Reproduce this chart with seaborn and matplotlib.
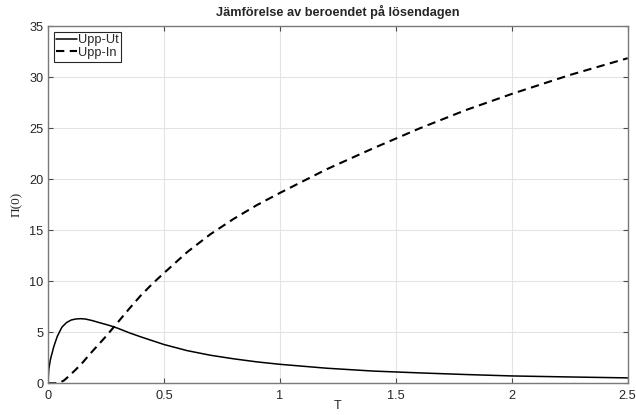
import matplotlib
matplotlib.use("Agg")
import matplotlib.pyplot as plt
from matplotlib import font_manager as fm
import seaborn as sns
import pandas as pd

# Option value versus time to expiry for the two barrier options
t_ut = [0, 0.003, 0.01, 0.025, 0.04, 0.06, 0.08, 0.1, 0.12, 0.14, 0.16, 0.19,
        0.22, 0.26, 0.3, 0.35, 0.4, 0.5, 0.6, 0.7, 0.8, 0.9, 1.0, 1.2, 1.4,
        1.6, 1.8, 2.0, 2.25, 2.5]
pi_ut = [0, 1.3, 2.3, 3.6, 4.6, 5.5, 5.95, 6.2, 6.3, 6.33, 6.3, 6.15, 5.95,
         5.7, 5.4, 4.95, 4.55, 3.8, 3.2, 2.75, 2.4, 2.1, 1.86, 1.48, 1.2,
         1.02, 0.86, 0.72, 0.62, 0.53]

t_in = [0, 0.03, 0.05, 0.07, 0.09, 0.12, 0.15, 0.18, 0.21, 0.25, 0.3, 0.35,
        0.4, 0.45, 0.5, 0.6, 0.7, 0.8, 0.9, 1.0, 1.2, 1.4, 1.6, 1.8, 2.0,
        2.25, 2.5]
pi_in = [0, 0, 0.05, 0.3, 0.7, 1.35, 2.05, 2.85, 3.6, 4.6, 5.95, 7.3, 8.6,
         9.75, 10.8, 12.85, 14.6, 16.1, 17.45, 18.65, 20.95, 23.0, 24.95,
         26.75, 28.35, 30.2, 31.85]

series_names = ["Upp-Ut", "Upp-In"]
x_ticks = [0, 0.5, 1, 1.5, 2, 2.5]
x_tick_labels = ["0", "0.5", "1", "1.5", "2", "2.5"]
y_ticks = [0, 5, 10, 15, 20, 25, 30, 35]

# keep the regular-width Liberation faces only
fm.fontManager.ttflist = [f for f in fm.fontManager.ttflist
                          if "narrow" not in f.fname.lower()]

sns.set_theme(style="whitegrid")
plt.rcParams["font.family"] = ["Liberation Sans", "DejaVu Sans"]

df_ut = pd.DataFrame({"T": t_ut, "v": pi_ut})
df_in = pd.DataFrame({"T": t_in, "v": pi_in})

fig = plt.figure(figsize=(6.36, 4.15), dpi=100)
ax = fig.add_axes([0.0755, 0.0764, 0.9115, 0.8609])

sns.lineplot(data=df_ut, x="T", y="v", ax=ax, color="black", lw=1.1,
             label=series_names[0])
sns.lineplot(data=df_in, x="T", y="v", ax=ax, color="black", lw=1.5,
             label=series_names[1])
ax.lines[1].set_dashes((4, 2.6))

ax.set_xlim(0, 2.5)
ax.set_ylim(0, 35)
ax.set_xticks(x_ticks)
ax.set_xticklabels(x_tick_labels)
ax.set_yticks(y_ticks)

ax.grid(True, color="#e3e3e3", lw=0.8)
for s in ax.spines.values():
    s.set_color("#7a7a7a")
    s.set_linewidth(1.0)
ax.tick_params(axis="both", which="both", direction="in", length=3.5,
               width=0.8, color="#4a4a4a", labelsize=9.2, labelcolor="#262626",
               top=True, right=True, bottom=True, left=True)
ax.tick_params(axis="x", pad=4.5)
ax.tick_params(axis="y", pad=3.5)

ax.set_title("Jämförelse av beroendet på lösendagen", fontsize=9.2,
             fontweight="bold", pad=7.5)
ax.set_xlabel("T", fontsize=9.2, labelpad=-1, color="#262626")
ax.set_ylabel("Π(0)", fontsize=9.5, labelpad=4, color="#262626",
              family=["Liberation Serif", "DejaVu Serif"])

leg = ax.legend(loc="upper left", fontsize=9.2, frameon=True, fancybox=False,
                handlelength=1.6, handletextpad=0.1, borderpad=0.2,
                labelspacing=0.05, borderaxespad=0.45, framealpha=1)
leg.get_frame().set_edgecolor("#262626")
leg.get_frame().set_linewidth(0.8)

fig.savefig("out.png", dpi=100)
